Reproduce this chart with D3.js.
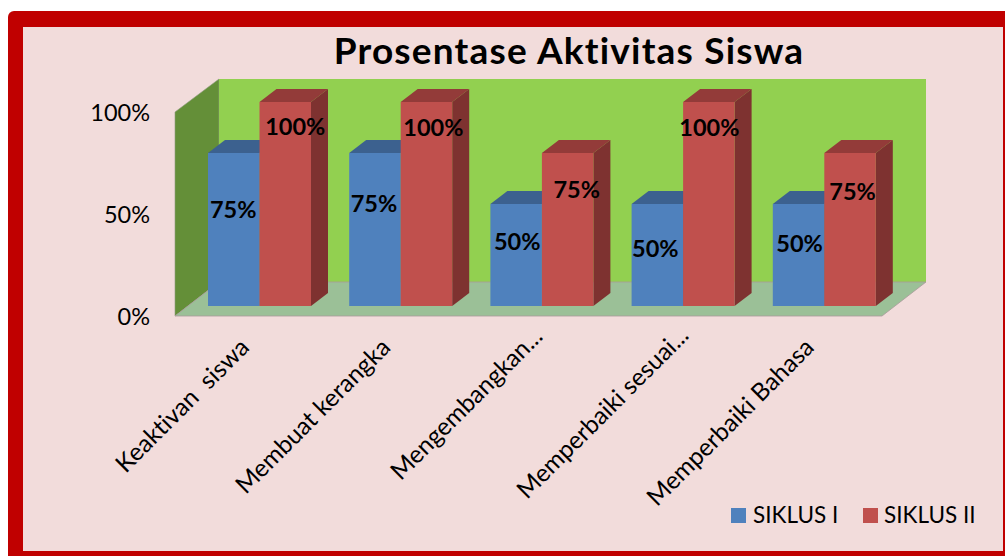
<!DOCTYPE html>
<html>
<head>
    <title>Prosentase Aktivitas Siswa</title>
    <style>
        html, body { margin: 0; padding: 0; background: #ffffff; overflow: hidden; }
        svg { display: block; font-family: Lato, "Open Sans", sans-serif; font-variant-ligatures: none; }
    </style>
    <script src="https://d3js.org/d3.v7.min.js"></script>
</head>
<body>
    <svg id="chart" width="1005" height="556"></svg>
    <script>
        var categories = ["Keaktivan  siswa", "Membuat kerangka", "Mengembangkan...", "Memperbaiki sesuai...", "Memperbaiki Bahasa"];
        var seriesNames = ["SIKLUS I", "SIKLUS II"];
        var siklus1 = [75, 75, 50, 50, 50];
        var siklus2 = [100, 100, 75, 100, 75];
        var yTicks = [0, 50, 100];

        var svg = d3.select("#chart");

        // frame
        svg.append("rect").attr("x", 8).attr("y", 11).attr("width", 1010).attr("height", 560)
            .attr("rx", 6).attr("fill", "#c00000");
        svg.append("rect").attr("x", 23).attr("y", 27).attr("width", 980).attr("height", 524)
            .attr("fill", "#f2dcdb");

        svg.append("text").attr("x", 569).attr("y", 64).attr("text-anchor", "middle")
            .style("font-size", "37px").style("font-weight", "bold").style("letter-spacing", "1.2px").attr("fill", "#000")
            .text("Prosentase Aktivitas Siswa");

        // front face of the plot box, the back wall is shifted by depth
        var plotLeft = 175, plotRight = 882, plotBottom = 316, plotTop = 112;
        var wallDx = 44, wallDy = -34;
        var barDx = 17, barDy = -13;   // depth of one bar
        var barInset = 10;             // bars stand a bit behind the front edge

        var x = d3.scaleBand().domain(categories).range([plotLeft, plotRight - 1]);
        var inner = d3.scaleBand().domain(seriesNames).range([23, x.bandwidth() - 15.2]);
        var y = d3.scaleLinear().domain([0, 100]).range([plotBottom, plotTop]);

        function poly(g, pts, fill) {
            return g.append("polygon")
                .attr("points", pts.map(function(p) { return p.join(","); }).join(" "))
                .attr("fill", fill);
        }

        var walls = svg.append("g");
        // side wall
        poly(walls, [[plotLeft, plotBottom], [plotLeft, plotTop], [plotLeft + wallDx, plotTop + wallDy + 1], [plotLeft + wallDx, plotBottom + wallDy]], "#648f38")
            .attr("stroke", "#8f9a80").attr("stroke-width", 0.6);
        // back wall
        poly(walls, [[plotLeft + wallDx, plotTop + wallDy + 1], [plotRight + wallDx, plotTop + wallDy + 1], [plotRight + wallDx, plotBottom + wallDy], [plotLeft + wallDx, plotBottom + wallDy]], "#92d050");
        // floor
        poly(walls, [[plotLeft, plotBottom], [plotLeft + wallDx, plotBottom + wallDy], [plotRight + wallDx, plotBottom + wallDy], [plotRight, plotBottom]], "#9bc097")
            .attr("stroke", "#a89a9a").attr("stroke-width", 0.8);

        var colors = [
            { front: "#4f81bd", top: "#3c618f", side: "#3c618f" },
            { front: "#c0504d", top: "#933b39", side: "#7e3230" }
        ];

        var bars = svg.append("g");
        // left to right so the next bar covers the side of the one before
        categories.forEach(function(cat, c) {
            [siklus1[c], siklus2[c]].forEach(function(v, s) {
                var col = colors[s];
                var x0 = x(cat) + inner(seriesNames[s]) + barInset, x1 = x0 + inner.bandwidth();
                var yb = plotBottom - barInset, yt = y(v) - barInset;
                poly(bars, [[x1, yb], [x1 + barDx, yb + barDy], [x1 + barDx, yt + barDy], [x1, yt]], col.side);
                poly(bars, [[x0, yt], [x0 + barDx, yt + barDy], [x1 + barDx, yt + barDy], [x1, yt]], col.top);
                bars.append("rect").attr("x", x0).attr("y", yt).attr("width", x1 - x0).attr("height", yb - yt).attr("fill", col.front);
            });
        });

        // data labels were moved by hand in the original, so each has its own nudge from the bar top
        var labelNudge = [
            [[-0.5, 65], [10, 33]], [[-1, 59], [7, 34]], [[1, 46], [9, 45]], [[-2, 53], [0.5, 34]], [[1, 48], [2.5, 47]]
        ];
        var labels = svg.append("g").style("font-size", "23.5px").style("font-weight", "bold").attr("fill", "#000");
        categories.forEach(function(cat, c) {
            [siklus1[c], siklus2[c]].forEach(function(v, s) {
                var x0 = x(cat) + inner(seriesNames[s]) + barInset;
                labels.append("text")
                    .attr("x", x0 + inner.bandwidth() / 2 + labelNudge[c][s][0])
                    .attr("y", y(v) - barInset + labelNudge[c][s][1])
                    .attr("text-anchor", "middle")
                    .text(v + "%");
            });
        });

        // y axis
        var yAxis = d3.axisLeft(y).tickValues(yTicks).tickSize(0).tickPadding(25).tickFormat(function(d) { return d + "%"; });
        var yG = svg.append("g").attr("transform", "translate(" + plotLeft + ",1)").call(yAxis);
        yG.select(".domain").remove();
        yG.selectAll("text").style("font-family", "Lato").style("font-size", "23.5px").attr("fill", "#000");

        // category labels
        var labelShift = [[5, 5], [5, 5], [16, -6], [21, -7], [5, 5]];
        var xAxis = d3.axisBottom(x).tickSize(0).tickPadding(0);
        var xG = svg.append("g").attr("transform", "translate(0," + plotBottom + ")").call(xAxis);
        xG.select(".domain").remove();
        xG.selectAll("text")
            .style("font-family", "Lato").style("font-size", "24.5px").style("white-space", "pre")
            .attr("fill", "#000")
            .attr("text-anchor", "end")
            .attr("dy", 0).attr("y", 0)
            .attr("transform", function(d, i) {
                return "translate(" + labelShift[i][0] + "," + (28 + labelShift[i][1]) + ") rotate(-45)";
            });

        // legend
        var legendX = [731, 863], legendTextX = [753, 884];
        var legend = svg.append("g");
        seriesNames.forEach(function(name, i) {
            legend.append("rect").attr("x", legendX[i]).attr("y", 508).attr("width", 15).attr("height", 15).attr("fill", colors[i].front);
            legend.append("text").attr("x", legendTextX[i]).attr("y", 523)
                .style("font-size", "22.5px").attr("fill", "#000").text(name);
        });
    </script>
</body>
</html>
